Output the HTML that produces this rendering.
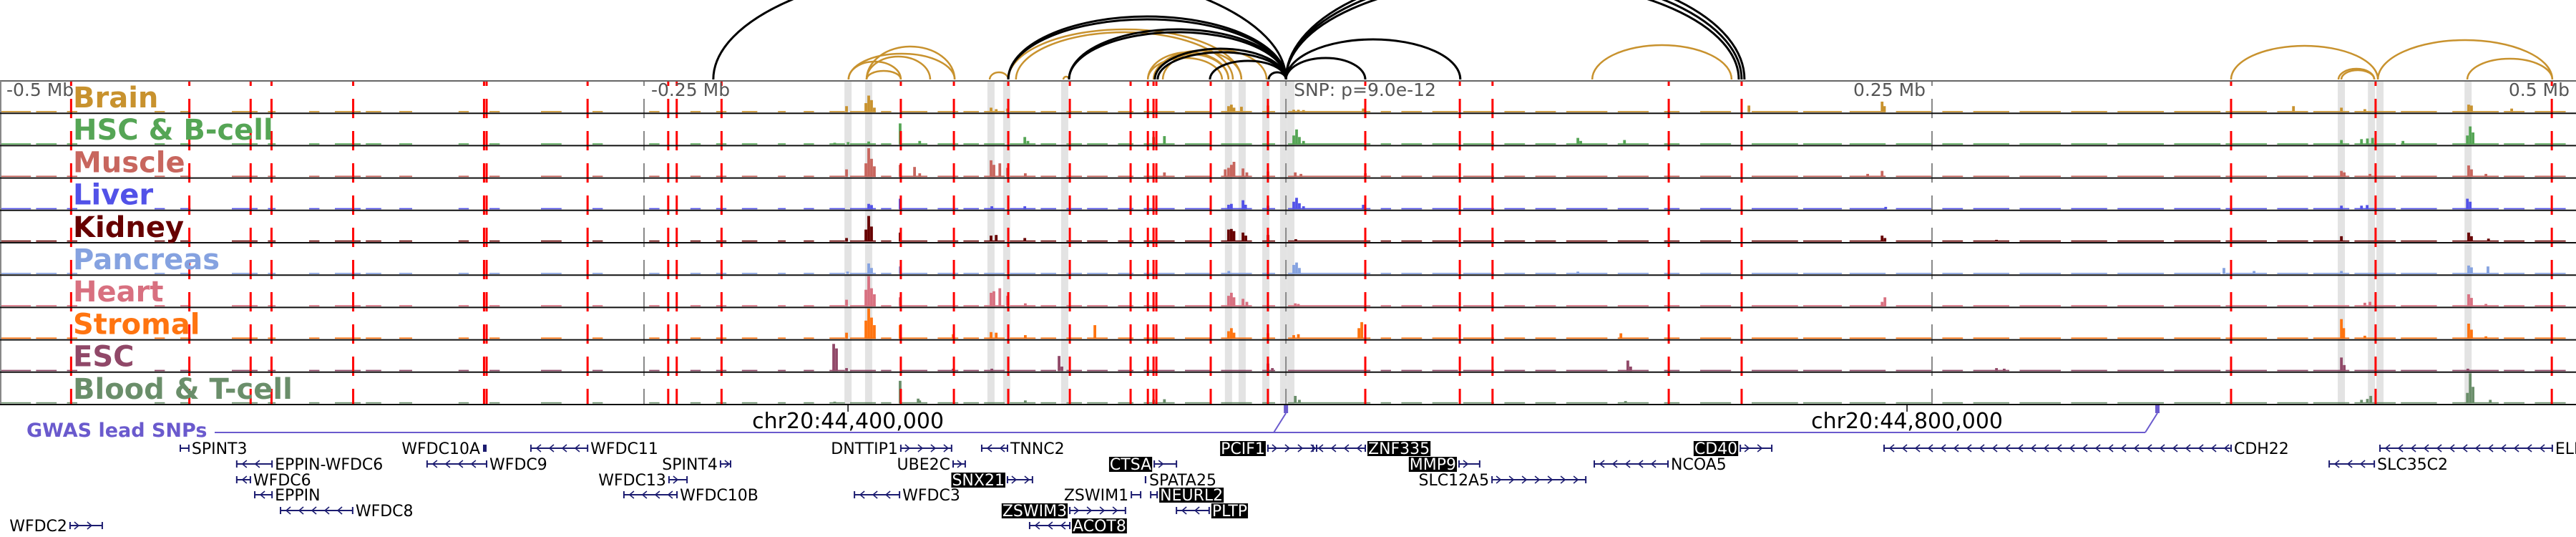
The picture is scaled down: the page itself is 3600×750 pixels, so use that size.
<!DOCTYPE html>
<html><head><meta charset="utf-8"><style>
html,body{margin:0;padding:0;background:#fff;}
svg{display:block;}
text{font-family:"DejaVu Sans","Liberation Sans",sans-serif;}
</style></head><body>
<svg id="chart" width="3600" height="750" viewBox="0 0 3600 750" xmlns="http://www.w3.org/2000/svg">
<g id="arcs"></g>
<g id="cols"></g>
<g id="bars"></g>
<g id="vlines"></g>
<g id="frames"></g>
<g id="labels"></g>
<g id="axis"></g>
<g id="gwas"></g>
<g id="genes"></g>
</svg>
<script>
// ---- data (kb relative to lead SNP) ----
const trackNames = ["Brain","HSC & B-cell","Muscle","Liver","Kidney","Pancreas","Heart","Stromal","ESC","Blood & T-cell"];
const trackColors = ["#c8922e","#55a555","#c8665e","#5252e8","#660000","#85a2e0","#d87080","#ff7410","#904868","#6a8e6a"];
const baselineIntervals = [[-500,-488],[-486,-478],[-474,-470],[-440,-436],[-430,-426],[-410,-400],[-396,-393],[-380,-376],[-370,-360],[-358,-352],[-345,-340],[-322,-318],[-310,-306],[-290,-282],[-270,-266],[-248,-244],[-232,-228],[-222,-218],[-212,-206],[-198,-195],[-188,-184],[-178,-172],[-170,-160],[-158,-154],[-150,-140],[-136,-128],[-126,-120],[-118,-110],[-108,-98],[-96,-90],[-86,-80],[-78,-70],[-66,-60],[-56,-44],[-40,-30],[-26,-14],[-10,-5],[0,32],[36,40],[44,52],[56,66],[68,80],[84,92],[96,104],[108,124],[128,140],[146,152],[160,172],[180,198],[200,215],[218,232],[236,250],[254,262],[266,280],[284,300],[304,318],[322,340],[344,362],[364,380],[384,396],[398,412],[414,430],[432,446],[452,470],[472,480],[484,496]];
const peaksBrain = [[-163.9,30],[-162.8,55],[-161.7,40],[-160.6,15],[-171.4,20],[-115.3,15],[-113.3,10],[-108.9,12],[-23.1,20],[-22,25],[-21,15],[-18.1,18],[-7.8,22],[2.2,8],[4,8],[6,7],[29.2,12],[178.9,22],[230.6,35],[231.5,20],[390.3,20],[408.9,15],[418,10],[458.3,25],[459.4,22],[475,12]];
const peaksHSC = [[-150.6,70],[-143,12],[-102.2,25],[-101,12],[-52.2,25],[-48,28],[3.3,50],[2.2,30],[4.4,25],[6,12],[112.5,22],[113.6,12],[130.6,15],[-170.8,8],[-162.8,10],[408.9,15],[416.7,18],[419,20],[421,22],[458.9,60],[460,40],[457.8,30],[432.8,12],[-176,6]];
const peaksMuscle = [[-163.9,45],[-162.8,95],[-161.7,60],[-160.6,35],[-171.4,25],[-150.6,40],[-145,33],[-143,12],[-115.3,55],[-114.2,40],[-111.9,45],[-108.9,30],[-102,12],[-48,15],[-23.1,30],[-22,40],[-21,50],[-24.4,25],[-17.5,28],[-16,15],[-7.8,18],[2.8,15],[5,10],[30,12],[225,10],[230.6,20],[408.9,20],[410,15],[420,10],[458.3,38],[459.4,25],[465,10]];
const peaksLiver = [[-162.8,18],[-161.7,14],[-150.6,35],[-102.2,10],[-115,10],[-23.1,15],[-22,18],[-17.5,30],[-16.5,15],[-7.8,12],[2.2,25],[3.3,38],[4.4,20],[6,10],[29.2,15],[457.8,35],[458.9,25],[416.7,12],[418.9,14],[408.9,12],[232,8]];
const peaksKidney = [[-163.9,40],[-162.8,85],[-161.7,50],[-171.4,12],[-150.6,30],[-115.3,20],[-113.3,22],[-102.2,12],[-23.1,40],[-22,42],[-21,35],[-17.5,30],[-16.4,20],[-7.8,22],[3,8],[230.6,20],[231.7,12],[408.9,18],[458.3,30],[459.4,18],[466,10],[275,6]];
const peaksPancreas = [[-162.8,35],[-161.7,20],[-150.6,25],[-23,10],[2.2,30],[3.3,38],[4.4,20],[112.5,8],[363.3,20],[375,10],[408.9,10],[458.3,28],[459.4,22],[465.8,25],[-171,8]];
const peaksHeart = [[-163.9,55],[-162.8,100],[-161.7,60],[-160.6,40],[-171.4,22],[-150.6,30],[-115.3,45],[-114.2,50],[-111.9,60],[-108.9,35],[-102,10],[-23.1,35],[-22,45],[-21,30],[-17.5,25],[-16,15],[2.8,10],[4,8],[230.6,15],[231.7,30],[418,12],[420,15],[458.3,40],[459.4,28],[465,8]];
const peaksStromal = [[-163.9,60],[-162.8,100],[-161.7,70],[-160.6,45],[-171.4,20],[-150.6,45],[-130,15],[-115.3,22],[-113.3,20],[-102,12],[-75,45],[-23.1,25],[-22,35],[-21,20],[-7.8,18],[2.2,12],[4,15],[27.5,35],[28.6,55],[129.2,18],[408.9,65],[409.8,35],[418,10],[458.3,50],[459.4,30],[465,8]];
const peaksESC = [[-176.4,90],[-175.3,75],[-171.4,10],[-130,8],[-115,8],[-88.9,50],[-87.8,15],[-7.8,25],[-6.1,10],[131.9,35],[133,15],[275,10],[278,8],[408.9,45],[410,20],[458,8]];
const peaksBlood = [[-150.6,75],[-143.6,16],[-143,10],[-102,10],[-52.2,12],[-48,14],[2.8,25],[4.4,12],[131,8],[420.3,25],[419,15],[416.7,12],[458.9,100],[460,55],[457.8,35],[466.7,12],[-176,6]];
const markerLines = [-472.4,-426.5,-402.7,-394.6,-362.9,-312.1,-311.1,-271.9,-240.6,-237.3,-219.9,-150.3,-129.7,-108.6,-84.7,-61.1,-54.4,-52.2,-51.1,-30,-7.8,30,66.7,79.4,147.8,176.1,366.1,422.2,490.6];
const highlightCols = [-170.8,-162.8,-115.3,-109.2,-86.7,-23.1,-17.8,-8.6,-1.7,1.1,408.9,420.6,423.9,458.1];
const tickKb = [-250,250];
const tickLabels = ["-0.25 Mb","0.25 Mb"];
const arcsBlack = [[-108.6,-0.8,88],[-108.6,-0.8,84],[-85,-0.8,70],[-85,-0.8,66],[-51.7,-0.8,43],[-50.6,-0.8,38],[-30.3,-0.8,26],[-7.5,-0.8,10],[-0.8,30,30],[-0.8,66.9,56],[-0.8,175,140],[-0.8,176.1,148],[-0.8,177.2,156],[-223.1,-0.8,162]];
const arcsBrown = [[-170.6,-129.4,36],[-163.6,-129.4,46],[-163.6,-138.9,32],[-163.6,-150.3,12],[-170.6,-150.3,25],[-115.8,-108.6,10],[-87.2,-85,4],[-108.6,-18.1,70],[-105.6,-21.4,66],[-54.4,-23.1,38],[-52.2,-23.1,35],[-51.7,-18.1,40],[-54.4,-25.6,30],[-48.6,-8.3,42],[118.1,172.2,48],[366.1,423.1,47],[407.8,421.7,15],[408.9,421.7,13],[423.1,490.8,55],[457.8,490.8,29]];
const gwasSnps = [-0.8,337.5];
// genes: name, start, end, strand, row, highlighted, label side
const genes = [
["SPINT3",-430,-426.7,"-",0,0,"R"],["WFDC10A",-312.5,-311.1,".",0,0,"L"],["WFDC11",-293.9,-271.9,"-",0,0,"R"],
["DNTTIP1",-150.3,-130.6,"+",0,0,"L"],["TNNC2",-118.9,-108.9,"-",0,0,"R"],["PCIF1",-7.8,11.1,"+",0,1,"L"],
["ZNF335",9.7,30,"-",0,1,"R"],["CD40",175.6,187.8,"+",0,1,"L"],["CDH22",231.4,366.1,"-",0,0,"R"],["ELMO2",423.9,490.8,"-",0,0,"R"],
["EPPIN-WFDC6",-408.1,-394.4,"-",1,0,"R"],["WFDC9",-334.2,-311.1,"-",1,0,"R"],["SPINT4",-220.3,-216.4,"+",1,0,"L"],
["UBE2C",-130,-125.3,"+",1,0,"L"],["CTSA",-51.9,-43.3,"+",1,1,"L"],["MMP9",66.4,74.4,"+",1,1,"L"],
["NCOA5",118.9,147.5,"-",1,0,"R"],["SLC35C2",404.2,421.7,"-",1,0,"R"],
["WFDC6",-408.1,-402.8,"-",2,0,"R"],["WFDC13",-240.3,-233.3,"+",2,0,"L"],["SNX21",-108.9,-99.2,"+",2,1,"L"],
["SPATA25",-55.6,-55,".",2,0,"R"],["SLC12A5",79.2,115.6,"+",2,0,"L"],
["EPPIN",-401.1,-394.4,"-",3,0,"R"],["WFDC10B",-257.8,-237.2,"-",3,0,"R"],["WFDC3",-168.3,-150.8,"-",3,0,"R"],
["ZSWIM1",-60.8,-57.2,"+",3,0,"L"],["NEURL2",-53.3,-50.8,"-",3,1,"R"],
["WFDC8",-391.1,-363.1,"-",4,0,"R"],["ZSWIM3",-84.7,-63.1,"+",4,1,"L"],["PLTP",-43.3,-30.6,"-",4,1,"R"],
["WFDC2",-472.8,-460.3,"+",5,0,"L"],["ACOT8",-100.3,-84.7,"-",5,1,"R"]];
const allPeaks = [peaksBrain,peaksHSC,peaksMuscle,peaksLiver,peaksKidney,peaksPancreas,peaksHeart,peaksStromal,peaksESC,peaksBlood];

// ---- scales ----
const NS="http://www.w3.org/2000/svg";
const PX_PER_KB=3.6, X0=1800, PANEL_TOP=113, TRACK_H=45.2, NT=10, PANEL_BOT=PANEL_TOP+TRACK_H*NT;
function X(kb){return X0+kb*PX_PER_KB;}
function trackTop(i){return PANEL_TOP+i*TRACK_H;}
function H(v){return v/100*(TRACK_H-3);}
function mk(tag,attrs,parent){const e=document.createElementNS(NS,tag);for(const k in attrs)e.setAttribute(k,attrs[k]);parent.appendChild(e);return e;}
const g=id=>document.getElementById(id);

// arcs
function drawArc(a,color,w,name){
  const x1=X(a[0]),x2=X(a[1]),rx=(x2-x1)/2,base=PANEL_TOP-2;
  const p=mk('path',{d:`M${x1},${base} A${rx},${a[2]} 0 0 1 ${x2},${base}`,fill:'none',stroke:color,'stroke-width':w},g('arcs'));
  
  
}
arcsBrown.forEach(a=>drawArc(a,'#c8922e',2.5,'brain-loop-arc'));
arcsBlack.forEach(a=>drawArc(a,'#000',3,'snp-loop-arc'));

// highlight columns
highlightCols.forEach(c=>{
  const r=mk('rect',{x:X(c)-5,y:PANEL_TOP,width:10,height:PANEL_BOT-PANEL_TOP,fill:'#e3e3e3'},g('cols'));
  
  
});

// bars
for(let i=0;i<NT;i++){
  const tg=mk('g',{},g('bars'));
  
  
  const base=trackTop(i)+TRACK_H-1.5;
  baselineIntervals.forEach(b=>{
    const r=mk('rect',{x:X(b[0]),y:base-H(4),width:(b[1]-b[0])*PX_PER_KB,height:H(4),fill:trackColors[i]},tg);
    
    
  });
  allPeaks[i].forEach(p=>{
    const r=mk('rect',{x:X(p[0])-1.8,y:base-H(p[1]),width:3.8,height:H(p[1]),fill:trackColors[i]},tg);
    
    
  });
}

// marker lines
markerLines.forEach(m=>{
  const l=mk('line',{x1:X(m),x2:X(m),y1:PANEL_TOP,y2:PANEL_BOT,stroke:'#ff0000','stroke-width':3,'stroke-dasharray':'27 18','stroke-dashoffset':20},g('vlines'));
  
  
});
[tickKb[0],-0.8,tickKb[1]].forEach(m=>{
  const l=mk('line',{x1:X(m),x2:X(m),y1:PANEL_TOP,y2:PANEL_BOT,stroke:'#888','stroke-width':2,'stroke-dasharray':'27 18','stroke-dashoffset':20},g('vlines'));
  
  
});

// frames
const fr=g('frames');
const topLine=mk('line',{x1:0,x2:3600,y1:PANEL_TOP,y2:PANEL_TOP,stroke:'#666','stroke-width':2},fr);

const leftLine=mk('line',{x1:1,x2:1,y1:PANEL_TOP,y2:PANEL_BOT,stroke:'#888','stroke-width':2},fr);

for(let i=0;i<NT;i++){
  const l=mk('line',{x1:0,x2:3600,y1:trackTop(i)+TRACK_H,y2:trackTop(i)+TRACK_H,stroke:'#111','stroke-width':2},fr);
  
  
}
// labels
trackNames.forEach((n,i)=>{
  const t=mk('text',{x:102,y:trackTop(i)+37,'font-size':40,'font-weight':'bold',fill:trackColors[i]},g('labels'));
  t.textContent=n;
  
  
});

// axis text inside panel
const ax=g('axis');
function txt(parent,s,attrs,name){const t=mk('text',attrs,parent);t.textContent=s;return t;}
txt(ax,"-0.5 Mb",{x:9,y:134,'font-size':25,fill:'#555'},'axis-label-left');
txt(ax,tickLabels[0],{x:X(tickKb[0])+10,y:134,'font-size':25,fill:'#555'},'axis-label-minus-quarter');
txt(ax,"SNP: p=9.0e-12",{x:X(-0.8)+11,y:134,'font-size':25,fill:'#555'},'snp-pvalue-label');
txt(ax,tickLabels[1],{x:X(tickKb[1])-110,y:134,'font-size':25,fill:'#555'},'axis-label-plus-quarter');
txt(ax,"0.5 Mb",{x:3591,y:134,'font-size':25,fill:'#555','text-anchor':'end'},'axis-label-right');
// genomic coordinate ticks
[[-170.8,"chr20:44,400,000"],[240.3,"chr20:44,800,000"]].forEach(c=>{
  const l=mk('line',{x1:X(c[0]),x2:X(c[0]),y1:PANEL_BOT,y2:PANEL_BOT+10,stroke:'#000','stroke-width':1.5},ax);
  
  txt(ax,c[1],{x:X(c[0]),y:598,'font-size':30,fill:'#000','text-anchor':'middle'},'coordinate-label');
});

// GWAS
const gw=g('gwas');
txt(gw,"GWAS lead SNPs",{x:37,y:610,'font-size':27,'font-weight':'bold',fill:'#6a5acd'},'gwas-track-label');
const gl=mk('line',{x1:300,x2:X(gwasSnps[1])-17,y1:604,y2:604,stroke:'#6a5acd','stroke-width':2},gw);

gwasSnps.forEach(s=>{
  const d=mk('line',{x1:X(s)-17,y1:604,x2:X(s),y2:577,stroke:'#6a5acd','stroke-width':2},gw);
  
  const r=mk('rect',{x:X(s)-3,y:566,width:6,height:11,fill:'#6a5acd'},gw);
  
});

// genes
const rowY=[626,648,670,691,713,734];
const GC='#1c1c70';
genes.forEach(gd=>{
  const [name,s,e,strand,row,hl,side]=gd;
  const gg=mk('g',{},g('genes'));
  
  
  const x1=X(s),x2=X(e),y=rowY[row];
  if(strand==='.'){mk('rect',{x:x1,y:y-5,width:Math.max(2,x2-x1),height:10,fill:GC},gg);}
  else{
    mk('line',{x1:x1,x2:x2,y1:y,y2:y,stroke:GC,'stroke-width':2},gg);
    mk('line',{x1:x1,x2:x1,y1:y-5,y2:y+5,stroke:GC,'stroke-width':2},gg);
    mk('line',{x1:x2,x2:x2,y1:y-5,y2:y+5,stroke:GC,'stroke-width':2},gg);
    const dir=strand==='+'?1:-1;
    for(let cx=x1+10;cx<x2-4;cx+=18){
      mk('path',{d:`M${cx-4*dir},${y-5} L${cx+2*dir},${y} L${cx-4*dir},${y+5}`,fill:'none',stroke:GC,'stroke-width':1.6},gg);
    }
  }
  const t=mk('text',{y:y+8,'font-size':22,fill:hl?'#fff':'#000'},gg);
  t.textContent=name;
  if(side==='L'){t.setAttribute('x',x1-4);t.setAttribute('text-anchor','end');}
  else{t.setAttribute('x',x2+4);}
  if(hl){
    const bb=t.getBBox();
    const r=document.createElementNS(NS,'rect');
    r.setAttribute('x',bb.x-1);r.setAttribute('y',y-10);r.setAttribute('width',bb.width+2);r.setAttribute('height',21);r.setAttribute('fill','#000');
    gg.insertBefore(r,t);
  }
});
</script>
</body></html>
